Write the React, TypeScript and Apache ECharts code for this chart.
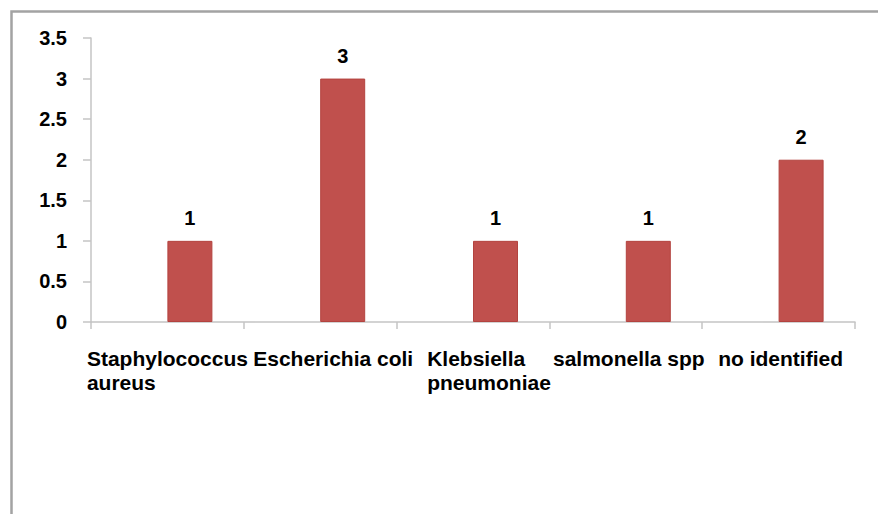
import React, { useEffect, useRef } from "react";
import * as echarts from "echarts";

const categories = [
  "Staphylococcus\naureus",
  "Escherichia coli",
  "Klebsiella\npneumoniae",
  "salmonella spp",
  "no identified",
];
const counts = [1, 3, 1, 1, 2];
const yMin = 0;
const yMax = 3.5;
const yStep = 0.5;

// left spacer (px) per category label, to mimic the reference label placement
const labelShift = [0, 26, 32, 6, 4];

export default function App() {
  const ref = useRef<HTMLDivElement>(null);

  useEffect(() => {
    if (!ref.current) return;
    const chart = echarts.init(ref.current, undefined, { renderer: "svg" });

    const rich: Record<string, any> = {
      t: {
        fontFamily: "Liberation Sans, Arial, sans-serif",
        fontSize: 21,
        fontWeight: "bold",
        color: "#000",
        lineHeight: 24,
        align: "left",
      },
    };
    labelShift.forEach((w, i) => {
      rich["p" + i] = { width: w, height: 24, lineHeight: 24, align: "left" };
    });

    const axisGray = "#c4c4c4";

    chart.setOption({
      animation: false,
      backgroundColor: "#ffffff",
      grid: { left: 91, right: 23, top: 38, bottom: 192, containLabel: false },
      graphic: [
        {
          type: "rect",
          shape: { x: 11.5, y: 11.5, width: 1000, height: 1000 },
          style: { fill: "none", stroke: "#a3a3a3", lineWidth: 2.5 },
          silent: true,
        },
      ],
      xAxis: {
        type: "category",
        data: categories,
        axisLine: { show: true, lineStyle: { color: axisGray, width: 1.5 } },
        axisTick: { show: true, length: 7, lineStyle: { color: axisGray, width: 1.5 } },
        splitLine: { show: false },
        axisLabel: {
          interval: 0,
          margin: 24,
          align: "center",
          verticalAlign: "top",
          formatter: (value: string, index: number) =>
            value
              .split("\n")
              .map((line) => `{p${index}|}{t|${line}}`)
              .join("\n"),
          rich,
        },
      },
      yAxis: {
        type: "value",
        min: yMin,
        max: yMax,
        interval: yStep,
        axisLine: { show: true, lineStyle: { color: axisGray, width: 1.5 } },
        axisTick: { show: true, length: 8, lineStyle: { color: axisGray, width: 1.5 } },
        splitLine: { show: false },
        axisLabel: {
          margin: 24,
          fontFamily: "Liberation Sans, Arial, sans-serif",
          fontSize: 20,
          fontWeight: "bold",
          color: "#000",
        },
      },
      series: [
        {
          type: "bar",
          name: "empty",
          data: categories.map(() => "-"),
          barWidth: 45,
          barGap: "0%",
          itemStyle: { color: "transparent" },
          silent: true,
        },
        {
          type: "bar",
          name: "count",
          data: counts,
          barWidth: 45,
          barGap: "0%",
          itemStyle: { color: "#c0504d", borderColor: "#b3433f", borderWidth: 1 },
          label: {
            show: true,
            position: "top",
            distance: 13,
            fontFamily: "Liberation Sans, Arial, sans-serif",
            fontSize: 20,
            fontWeight: "bold",
            color: "#000",
          },
        },
      ],
    });

    return () => chart.dispose();
  }, []);

  return (
    <div
      ref={ref}
      style={{ position: "absolute", left: 0, top: 0, width: 878, height: 514 }}
    />
  );
}
